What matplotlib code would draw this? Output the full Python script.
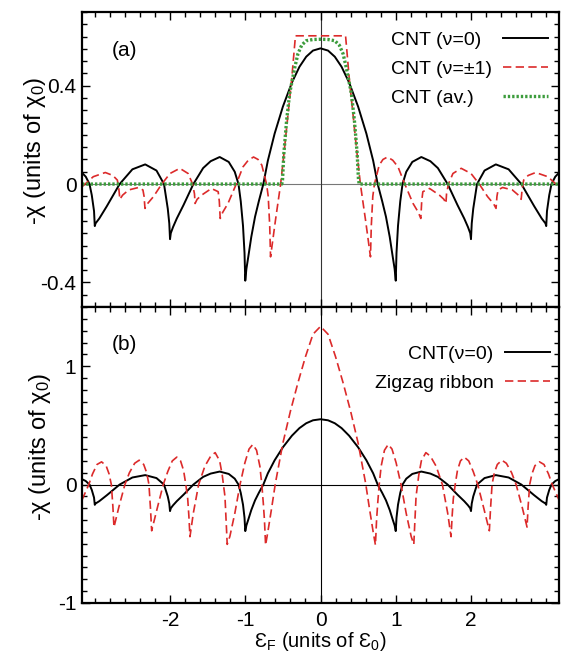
import matplotlib
matplotlib.use('Agg')
import matplotlib.pyplot as plt
from matplotlib.ticker import MultipleLocator

plt.rcParams['font.family'] = ['Liberation Sans', 'DejaVu Sans']
plt.rcParams['mathtext.fontset'] = 'custom'
plt.rcParams['mathtext.rm'] = 'Liberation Sans'
plt.rcParams['mathtext.it'] = 'Liberation Sans:italic'
plt.rcParams['axes.unicode_minus'] = False

#==============================================================================
# Values (x in units of eps0, y in units of chi0)
#==============================================================================

# CNT (nu=0), used in both panels
cnt0_x = [-3.17, -3.12, -3.07, -3.04, -3.01, -3.00, -2.99, -2.94, -2.84, -2.67,
          -2.50, -2.33, -2.18, -2.08, -2.03, -2.01, -2.00, -1.99, -1.96, -1.91,
          -1.82, -1.69, -1.56, -1.46, -1.34, -1.22, -1.14, -1.09, -1.06, -1.03,
          -1.01, -1.00, -0.985, -0.96, -0.92, -0.87, -0.82, -0.76, -0.70, -0.61,
          -0.50, -0.38, -0.28, -0.19, -0.10,
          0.00, 0.10, 0.19, 0.28, 0.38, 0.50, 0.61, 0.70, 0.76, 0.82,
          0.87, 0.92, 0.96, 0.985, 1.00, 1.01, 1.03, 1.06, 1.09, 1.14,
          1.22, 1.34, 1.46, 1.56, 1.69, 1.82, 1.91, 1.96, 1.99, 2.00,
          2.01, 2.03, 2.08, 2.18, 2.33, 2.50, 2.67, 2.84, 2.94, 2.99,
          3.00, 3.01, 3.04, 3.07, 3.12, 3.17]
cnt0_y = [0.046, 0.030, 0.000, -0.045, -0.110, -0.171, -0.160, -0.140, -0.090, 0.000,
          0.060, 0.080, 0.055, 0.000, -0.100, -0.160, -0.224, -0.200, -0.175, -0.140,
          -0.085, 0.000, 0.065, 0.093, 0.110, 0.090, 0.050, 0.000, -0.070, -0.170,
          -0.280, -0.393, -0.345, -0.296, -0.215, -0.133, -0.070, 0.000, 0.095, 0.205,
          0.315, 0.413, 0.477, 0.518, 0.543,
          0.552, 0.543, 0.518, 0.477, 0.413, 0.315, 0.205, 0.095, 0.000, -0.070,
          -0.133, -0.215, -0.296, -0.345, -0.393, -0.280, -0.170, -0.070, 0.000, 0.050,
          0.090, 0.110, 0.093, 0.065, 0.000, -0.085, -0.140, -0.175, -0.200, -0.224,
          -0.160, -0.100, 0.000, 0.055, 0.080, 0.060, 0.000, -0.090, -0.140, -0.160,
          -0.171, -0.110, -0.045, 0.000, 0.030, 0.046]

# CNT (nu=+-1)
cnt1_x = [-3.17, -3.02, -2.86, -2.76, -2.70, -2.68, -2.667, -2.63, -2.55, -2.42,
          -2.36, -2.345, -2.333, -2.30, -2.22, -2.11, -2.00, -1.87, -1.76, -1.70,
          -1.675, -1.667, -1.64, -1.58, -1.45, -1.36, -1.345, -1.333, -1.30, -1.23,
          -1.12, -1.03, -0.96, -0.89, -0.83, -0.78, -0.717, -0.695, -0.675, -0.664,
          -0.60, -0.53, -0.48, -0.43, -0.385, -0.333,
          0.00, 0.333, 0.385, 0.43, 0.48, 0.53, 0.60, 0.664, 0.675, 0.695,
          0.717, 0.78, 0.83, 0.89, 0.96, 1.03, 1.12, 1.23, 1.30, 1.333,
          1.345, 1.36, 1.45, 1.58, 1.64, 1.667, 1.675, 1.70, 1.76, 1.87,
          2.00, 2.11, 2.22, 2.30, 2.333, 2.345, 2.36, 2.42, 2.55, 2.63,
          2.667, 2.68, 2.70, 2.76, 2.86, 3.02, 3.17]
cnt1_y = [-0.011, 0.030, 0.047, 0.035, 0.016, -0.020, -0.062, -0.045, -0.024, -0.014,
          -0.024, -0.050, -0.099, -0.080, -0.051, 0.000, 0.043, 0.064, 0.043, 0.000,
          -0.040, -0.079, -0.062, -0.045, -0.018, -0.031, -0.070, -0.140, -0.115, -0.079,
          0.000, 0.070, 0.097, 0.110, 0.100, 0.077, 0.000, -0.050, -0.170, -0.296,
          -0.150, 0.000, 0.140, 0.290, 0.420, 0.603,
          0.603, 0.603, 0.420, 0.290, 0.140, 0.000, -0.150, -0.296, -0.170, -0.050,
          0.000, 0.077, 0.100, 0.110, 0.097, 0.070, 0.000, -0.079, -0.115, -0.140,
          -0.070, -0.031, -0.018, -0.045, -0.062, -0.079, -0.040, 0.000, 0.043, 0.064,
          0.043, 0.000, -0.051, -0.080, -0.099, -0.050, -0.024, -0.014, -0.024, -0.045,
          -0.062, -0.020, 0.016, 0.035, 0.047, 0.030, -0.011]

# CNT (av.)
cntav_x = [-3.17, -0.515, -0.505, -0.487, -0.45, -0.41, -0.34, -0.30, -0.25, -0.19, -0.10,
           0.00, 0.10, 0.19, 0.25, 0.30, 0.34, 0.41, 0.45, 0.487, 0.505, 0.515, 3.17]
cntav_y = [0.000, 0.000, 0.016, 0.125, 0.260, 0.369, 0.477, 0.530, 0.565, 0.583, 0.588,
           0.589, 0.588, 0.583, 0.565, 0.530, 0.477, 0.369, 0.260, 0.125, 0.016, 0.000, 0.000]

# Zigzag ribbon
zz_x = [-3.17, -3.08, -3.03, -2.97, -2.91, -2.85, -2.81, -2.78, -2.76, -2.745,
        -2.68, -2.60, -2.54, -2.47, -2.41, -2.35, -2.31, -2.28, -2.26, -2.244,
        -2.17, -2.09, -2.03, -1.97, -1.91, -1.86, -1.82, -1.79, -1.765, -1.75,
        -1.735, -1.69, -1.62, -1.537, -1.46, -1.40, -1.34, -1.306, -1.29, -1.27,
        -1.255, -1.24, -1.205, -1.138, -1.07, -1.005, -0.95, -0.90, -0.85, -0.806,
        -0.78, -0.76, -0.745, -0.73, -0.70, -0.65, -0.60, -0.50, -0.40, -0.30,
        -0.20, -0.10,
        0.00, 0.10, 0.20, 0.30, 0.40, 0.50, 0.60, 0.65, 0.70, 0.73,
        0.745, 0.76, 0.78, 0.806, 0.85, 0.90, 0.95, 1.005, 1.07, 1.138,
        1.205, 1.24, 1.255, 1.27, 1.29, 1.306, 1.34, 1.40, 1.46, 1.537,
        1.62, 1.69, 1.735, 1.75, 1.765, 1.79, 1.82, 1.86, 1.91, 1.97,
        2.03, 2.09, 2.17, 2.244, 2.26, 2.28, 2.31, 2.35, 2.41, 2.47,
        2.54, 2.60, 2.68, 2.745, 2.76, 2.78, 2.81, 2.85, 2.91, 2.97,
        3.03, 3.08, 3.17]
zz_y = [-0.130, 0.000, 0.090, 0.170, 0.192, 0.160, 0.090, 0.000, -0.180, -0.359,
        -0.190, 0.000, 0.100, 0.180, 0.206, 0.170, 0.100, 0.000, -0.200, -0.390,
        -0.200, 0.000, 0.110, 0.200, 0.232, 0.200, 0.120, 0.000, -0.120, -0.260,
        -0.440, -0.240, 0.000, 0.155, 0.240, 0.270, 0.200, 0.080, 0.000, -0.100,
        -0.300, -0.505, -0.438, -0.240, 0.000, 0.184, 0.300, 0.339, 0.290, 0.155,
        0.000, -0.160, -0.300, -0.511, -0.400, -0.200, 0.010, 0.350, 0.620, 0.860,
        1.080, 1.270,
        1.336, 1.270, 1.080, 0.860, 0.620, 0.350, 0.010, -0.200, -0.400, -0.511,
        -0.300, -0.160, 0.000, 0.155, 0.290, 0.339, 0.300, 0.184, 0.000, -0.240,
        -0.438, -0.505, -0.300, -0.100, 0.000, 0.080, 0.200, 0.270, 0.240, 0.155,
        0.000, -0.240, -0.440, -0.260, -0.120, 0.000, 0.120, 0.200, 0.232, 0.200,
        0.110, 0.000, -0.200, -0.390, -0.200, 0.000, 0.100, 0.170, 0.206, 0.180,
        0.100, 0.000, -0.190, -0.359, -0.180, 0.000, 0.090, 0.160, 0.192, 0.170,
        0.090, 0.000, -0.130]

red = '#dc2a2a'
green = '#3c9c3c'
ylab = '-χ (units of χ$_0$)'

fig = plt.figure(figsize=(5.62, 6.54), dpi=100)
ax1 = fig.add_axes([0.1459, 0.5306, 0.8488, 0.4511])
ax2 = fig.add_axes([0.1459, 0.0780, 0.8488, 0.4526])

#1 panel (a)
ax1.axhline(0, color='#777777', lw=0.8, zorder=1)
ax1.axvline(0, color='#333333', lw=0.8, zorder=1)
ax1.plot(cnt0_x, cnt0_y, '-', color='black', lw=1.4, label='CNT (ν=0)')
ax1.plot(cnt1_x, cnt1_y, '--', color=red, lw=1.2, dashes=(5, 2.6), label='CNT (ν=±1)')
ax1.plot(cntav_x, cntav_y, color=green, lw=2.4, ls=(0, (0.7, 0.6)), label='CNT (av.)')
ax1.set_xlim(-3.17, 3.17)
ax1.set_ylim(-0.5, 0.7)
ax1.set_yticks([-0.4, 0, 0.4])
ax1.set_yticklabels(['-0.4', '0', '0.4'])
ax1.yaxis.set_minor_locator(MultipleLocator(0.05))
ax1.set_xticks([-2, -1, 0, 1, 2])
ax1.set_xticklabels([])
ax1.set_ylabel(ylab, fontsize=17)
ax1.yaxis.set_label_coords(-0.071, 0.529)
ax1.text(0.063, 0.87, '(a)', transform=ax1.transAxes, fontsize=15, va='center')
leg1 = ax1.legend(loc='upper right', bbox_to_anchor=(0.9933, 0.960), frameon=False,
                  markerfirst=False, fontsize=14, handlelength=2.3, handletextpad=0.6,
                  labelspacing=0.58, borderaxespad=0, borderpad=0.4)

#2 panel (b)
ax2.axhline(0, color='black', lw=0.8, zorder=1)
ax2.axvline(0, color='black', lw=0.8, zorder=1)
ax2.plot(cnt0_x, cnt0_y, '-', color='black', lw=1.4, label='CNT(ν=0)')
ax2.plot(zz_x, zz_y, '--', color=red, lw=1.2, dashes=(5, 2.6), label='Zigzag ribbon')
ax2.set_xlim(-3.17, 3.17)
ax2.set_ylim(-1, 1.5)
ax2.set_yticks([-1, 0, 1])
ax2.yaxis.set_minor_locator(MultipleLocator(0.1))
ax2.set_xticks([-2, -1, 0, 1, 2])
ax2.set_ylabel(ylab, fontsize=17)
ax2.yaxis.set_label_coords(-0.061, 0.527)
ax2.set_xlabel('Ɛ$_\\mathrm{F}$ (units of Ɛ$_0$)', fontsize=14.5)
ax2.xaxis.set_label_coords(0.5, -0.0912)
ax2.text(0.063, 0.872, '(b)', transform=ax2.transAxes, fontsize=15, va='center')
ax2.legend(loc='upper right', bbox_to_anchor=(0.9975, 0.898), frameon=False,
           markerfirst=False, fontsize=14, handlelength=2.3, handletextpad=0.6,
           labelspacing=0.6, borderaxespad=0, borderpad=0.4)

for ax in (ax1, ax2):
    ax.xaxis.set_minor_locator(MultipleLocator(0.2))
    ax.tick_params(which='both', direction='in', top=True, right=True,
                   labelsize=15, width=1.0)
    ax.tick_params(which='major', length=6, pad=4)
    ax.tick_params(which='minor', length=3.5)
    for s in ax.spines.values():
        s.set_linewidth(1.6)
ax2.tick_params(axis='x', which='major', pad=6)

# panel (a) legend: texts flush left, keys flush right
fig.canvas.draw()
renderer = fig.canvas.get_renderer()
for col in leg1._legend_handle_box.get_children():
    rows = col.get_children()
    w = max(r.get_bbox(renderer).width for r in rows)
    for r in rows:
        r.mode = 'expand'
        r.width = w

fig.savefig('out.png', dpi=100)
